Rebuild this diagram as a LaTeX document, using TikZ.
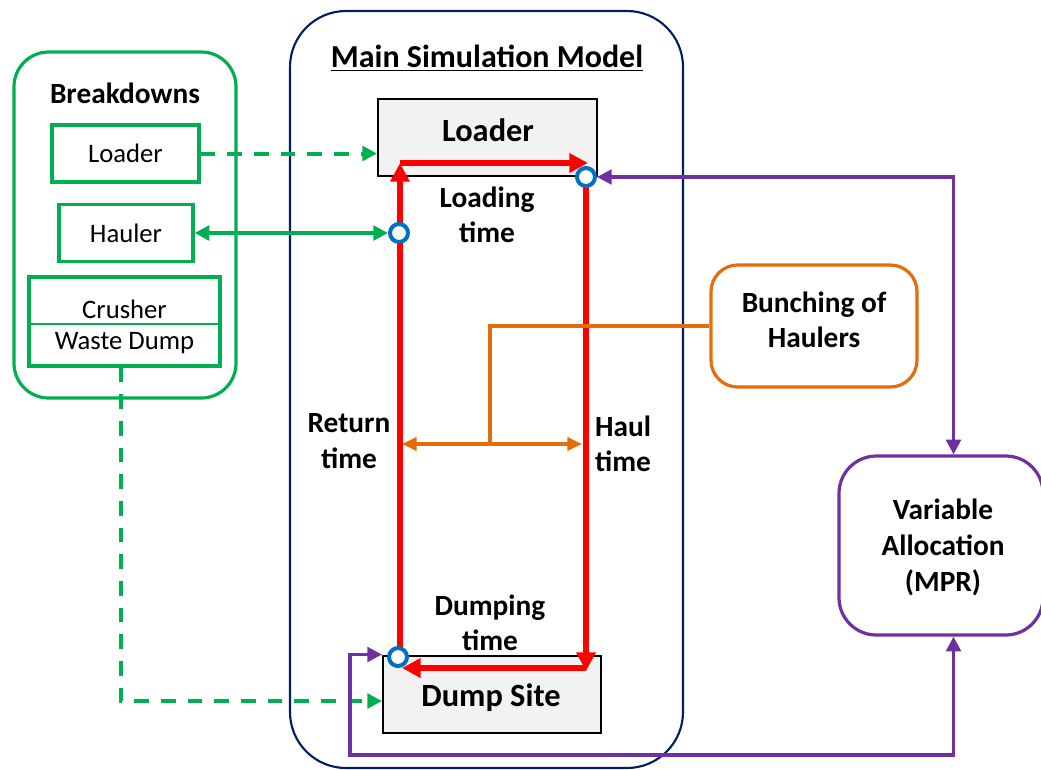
\documentclass[tikz,border=0pt]{standalone}
\usepackage{fontspec}
\setmainfont{Carlito}
\usetikzlibrary{arrows.meta,calc}

\definecolor{grn}{RGB}{0,176,80}
\definecolor{navy}{RGB}{0,32,96}
\definecolor{rd}{RGB}{255,0,0}
\definecolor{blu}{RGB}{0,112,192}
\definecolor{org}{RGB}{228,108,10}
\definecolor{prp}{RGB}{112,48,160}
\definecolor{lgray}{RGB}{242,242,242}

\tikzset{
  px/.style={x=0.75pt,y=-0.75pt},
  lbl/.style={font=\fontsize{22pt}{26.5pt}\selectfont\bfseries,align=center,inner sep=0pt},
  small/.style={font=\fontsize{20pt}{24pt}\selectfont,align=center},
  greenbox/.style={draw=grn,line width=2.4pt,inner sep=0pt},
  block/.style={draw=black,line width=1.5pt,fill=lgray,inner sep=0pt},
  bigtext/.style={inner sep=0pt,font=\fontsize{24.3pt}{29pt}\selectfont\bfseries},
  ring/.style={circle,draw=blu,fill=white,line width=3pt,minimum size=13.5pt,inner sep=0pt},
  redarrow/.style={draw=rd,line width=4.5pt,-{Triangle[length=14pt,width=14pt]}},
  greenline/.style={draw=grn,line width=2.6pt},
  gdash/.style={line width=3pt,dash pattern=on 11pt off 9pt},
  gtip/.style={-{Triangle[length=11pt,width=11pt]}},
  gboth/.style={{Triangle[length=11pt,width=11pt]}-{Triangle[length=11pt,width=11pt]}},
  orangeline/.style={draw=org,line width=2.4pt},
  oboth/.style={{Triangle[length=11pt,width=10pt]}-{Triangle[length=11pt,width=10pt]}},
  purpleline/.style={draw=prp,line width=2.4pt},
  pboth/.style={{Triangle[length=11pt,width=11pt]}-{Triangle[length=11pt,width=11pt]}},
}

\begin{document}
\begin{tikzpicture}[px]
\useasboundingbox (0,0) rectangle (1041,769);

% Breakdowns group
\node[draw=grn,line width=2.4pt,rounded corners=26pt,minimum width={222*0.75pt},
  minimum height={346*0.75pt}] (brk) at (125,225) {};
\node[lbl] (brktitle) at (125,93) {Breakdowns};
\node[greenbox,small,minimum width={147*0.75pt},minimum height={57*0.75pt}] (bl) at (125.5,153.5) {Loader};
\node[greenbox,small,minimum width={134*0.75pt},minimum height={57*0.75pt}] (bh) at (126,233) {Hauler};
\node[greenbox,minimum width={191*0.75pt},minimum height={89*0.75pt}] (bc) at (124.5,321.5) {};
\draw[grn,line width=1pt] (bc.west |- 0,324) -- (bc.east |- 0,324);
\node[small,inner sep=0pt] (crusher) at (124.5,309) {Crusher};
\node[small,inner sep=0pt] (waste) at (124.5,343) {Waste Dump};

% Main simulation model
\node[draw=navy,line width=1.6pt,rounded corners=42pt,minimum width={393*0.75pt},
  minimum height={757*0.75pt}] (main) at (486.5,389.5) {};
\node[inner sep=0pt,font=\fontsize{24pt}{29pt}\selectfont\bfseries] (title) at (487,58)
  {\underline{Main Simulation Model}};

\node[block,minimum width={219*0.75pt},minimum height={77*0.75pt}] (ld) at (487.5,137.5) {};
\node[bigtext] (ldtext) at (488,130) {Loader};
\node[block,minimum width={218*0.75pt},minimum height={77*0.75pt}] (ds) at (492,694) {};
\node[bigtext] (dstext) at (491,698) {Dump Site};

% cycle corners
\coordinate (tl) at (400,163);
\coordinate (tr) at (588,163);
\coordinate (bl0) at (400,657);
\coordinate (rtop) at (586,177);
\coordinate (rbot) at (586,671);
\coordinate (brc) at (586,668);
\coordinate (blc) at (402,668);

\draw[redarrow] (bl0) -- (tl);
\draw[redarrow] (tl) -- (tr);
\draw[redarrow] (rtop) -- (rbot);
\draw[redarrow] (brc) -- (blc);

\node[lbl] (loadt) at (487,215) {Loading\\time};
\node[lbl] (rett) at (349,441) {Return\\time};
\node[lbl] (hault) at (623,444) {Haul\\time};
\node[lbl] (dumpt) at (490,623) {Dumping\\time};

% Bunching of haulers
\node[draw=org,line width=2.4pt,rounded corners=20pt,minimum width={206*0.75pt},
  minimum height={122*0.75pt}] (bunch) at (814,326) {};
\node[lbl] (bunchtext) at (814,320) {Bunching of\\Haulers};
\coordinate (bjoin) at (490,444);
\coordinate (bleft) at (402,444);
\coordinate (bright) at (582,444);
\draw[orangeline] (bunch.west) -| (bjoin);
\draw[orangeline,oboth] (bleft) -- (bright);

% Variable allocation
\node[draw=prp,line width=2.4pt,rounded corners=28pt,minimum width={204*0.75pt},
  minimum height={179*0.75pt}] (va) at (941,545.5) {};
\node[lbl,font=\fontsize{22pt}{27pt}\selectfont\bfseries] (vatext) at (943,547) {Variable\\Allocation\\(MPR)};

% status rings
\node[ring] (c1) at (586,177) {};
\node[ring] (c2) at (399,233) {};
\node[ring] (c3) at (398,657) {};

% green links
\draw[greenline,gdash,gtip] (bl.east) -- (bl.east -| ld.west);
\draw[greenline,gboth] (bh.east) -- (c2.west);
\coordinate (dsin) at ($(ds.west)+(0,7)$);
\coordinate (bcout) at ($(bc.south)+(-3.5,0)$);
\draw[greenline,gdash,gtip] (bcout) |- (dsin);

% purple links
\coordinate (vtop) at ($(va.north)+(12.5,0)$);
\coordinate (vbot) at ($(va.south)+(12.5,0)$);
\coordinate (pcorner) at (350,755);
\draw[purpleline,pboth] (c1.east) -| (vtop);
\draw[purpleline,pboth] (vbot) |- (pcorner) |- (ds.north west);
\end{tikzpicture}
\end{document}
